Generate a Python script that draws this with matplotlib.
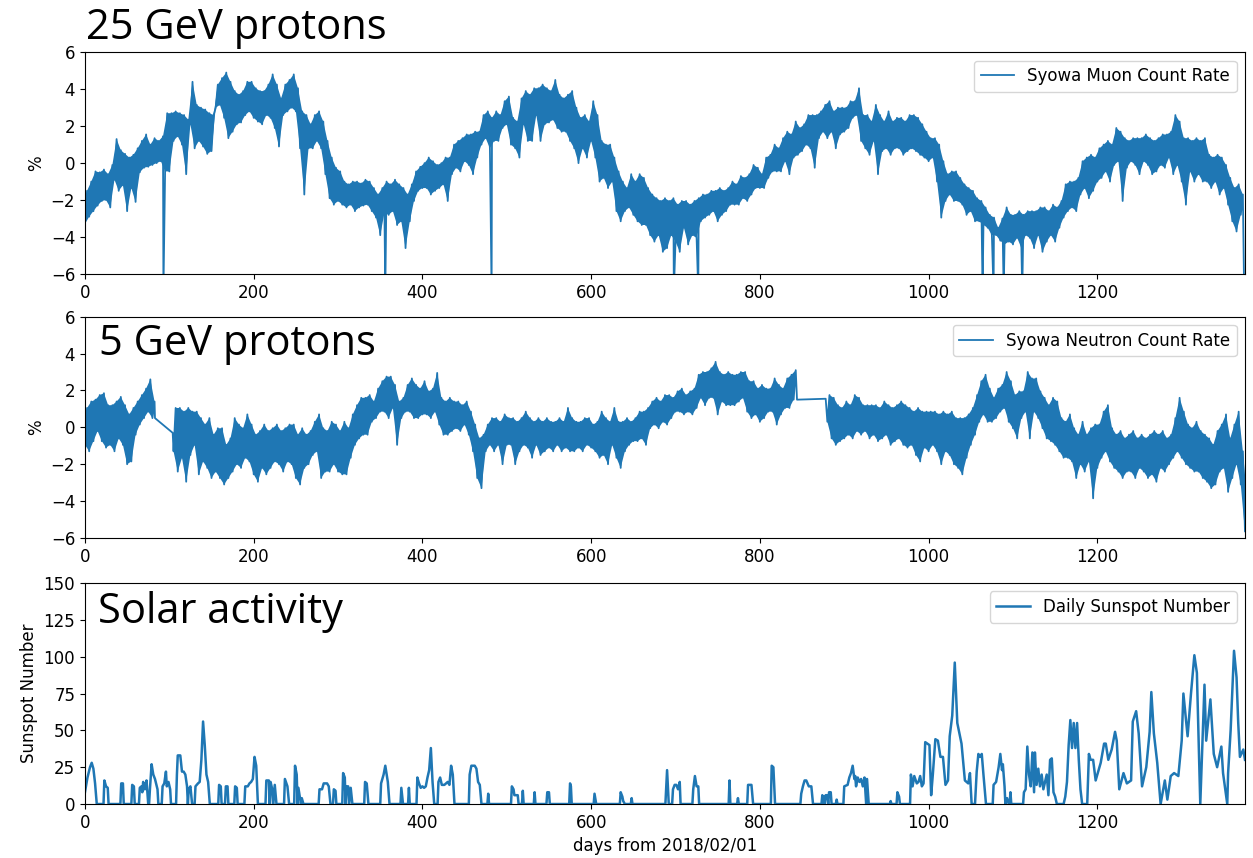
import numpy as np
import matplotlib.pyplot as plt

# Syowa muon count rate (%), read every 5 days: upper and lower edge of the hourly band
muon_days = list(range(0, 1371, 5))
muon_hi = [
    -1.5, -1.0, -0.45, -0.5, -0.35, -0.6, -0.1, 1.3, 0.7, 0.5,
    0.3, 0.45, 0.8, 1.2, 1.55, 1.0, 1.35, 1.2, 1.45, 2.7,
    2.7, 2.8, 2.7, 2.6, 2.35, 4.4, 3.15, 3.0, 2.9, 2.7,
    2.6, 4.25, 4.6, 4.9, 4.4, 3.9, 3.7, 3.9, 4.4, 4.4,
    4.05, 3.9, 3.9, 4.25, 4.8, 4.25, 3.5, 4.25, 4.5, 4.8,
    4.05, 2.8, 2.6, 2.1, 2.6, 2.8, 2.25, 1.2, 0.3, -0.25,
    -0.45, -1.0, -1.15, -1.0, -1.0, -1.1, -0.9, -1.0, -1.35, -1.7,
    -1.35, -1.0, -1.15, -0.9, -1.15, -1.35, -1.7, -1.15, -0.45, -0.2,
    0.0, 0.3, 0.1, -0.1, 0.0, 0.3, 0.3, 1.0, 1.2, 1.35,
    1.55, 1.55, 1.7, 1.7, 2.6, 2.8, 2.45, 2.8, 2.6, 3.35,
    3.6, 2.45, 2.25, 3.5, 3.9, 3.7, 4.05, 4.05, 4.25, 4.05,
    3.9, 4.5, 3.7, 3.5, 3.7, 3.9, 3.0, 2.45, 2.6, 2.25,
    3.35, 2.6, 1.2, 1.0, 1.0, 0.3, -0.45, -1.0, -1.35, -0.6,
    -1.0, -0.6, -0.8, -1.35, -1.7, -1.9, -2.05, -1.9, -2.05, -1.9,
    -2.25, -2.05, -2.05, -2.25, -2.05, -1.9, -1.7, -1.7, -1.5, -1.5,
    -1.35, -1.5, -1.35, -1.0, -1.15, -0.7, -0.8, -0.6, -0.1, -0.25,
    -0.6, 0.3, 0.45, 1.0, 0.8, 1.35, 1.7, 1.55, 2.25, 1.9,
    2.1, 2.6, 2.6, 2.6, 2.8, 3.15, 3.35, 2.8, 3.0, 3.0,
    3.0, 3.35, 3.35, 4.05, 2.6, 2.6, 2.25, 3.15, 2.6, 2.25,
    2.8, 2.25, 2.45, 2.45, 2.25, 2.6, 2.6, 2.45, 2.1, 1.7,
    1.35, 1.35, 1.0, 0.1, -0.6, -0.45, -0.45, -0.8, -1.15, -1.35,
    -1.5, -1.9, -2.05, -2.4, -2.8, -2.95, -3.5, -3.0, -2.4, -2.8,
    -2.8, -2.6, -2.8, -2.6, -2.6, -2.6, -2.4, -2.4, -2.6, -2.25,
    -2.4, -2.05, -1.15, -1.0, -1.0, -0.8, 0.1, 0.3, 0.45, 0.3,
    0.8, 1.0, 1.2, 1.0, 1.9, 1.7, 1.35, 1.2, 1.35, 1.35,
    1.35, 1.55, 1.35, 1.2, 1.35, 1.55, 1.55, 1.7, 2.6, 2.25,
    1.35, 1.35, 1.2, 1.35, 1.2, 1.35, 0.45, 0.3, 0.45, 0.3,
    -0.1, -0.8, -1.35, -1.15, -1.7,
]
muon_lo = [
    -3.3, -2.9, -2.6, -2.3, -2.05, -2.0, -2.4, -0.9, -1.5, -1.2,
    -2.6, -1.35, -2.1, -0.5, -0.25, -0.2, -0.1, 0.0, 0.1, -0.45,
    -0.45, 1.2, 1.45, 1.0, -0.6, 2.1, 0.8, 1.2, 0.9, 0.5,
    0.65, 3.0, 3.15, 2.45, 1.35, 1.7, 2.1, 2.2, 2.6, 2.8,
    2.45, 2.25, 2.1, 2.6, 2.45, 1.9, 0.9, 2.6, 2.8, 3.0,
    2.8, 0.8, -1.7, 0.8, 0.8, 1.2, 0.8, -0.6, -1.9, -2.25,
    -2.05, -2.25, -2.4, -2.25, -2.6, -2.4, -2.3, -2.25, -2.6, -2.95,
    -3.9, -2.7, -2.8, -2.6, -3.35, -3.15, -4.6, -3.15, -2.05, -1.5,
    -1.35, -1.35, -1.7, -1.5, -1.35, -1.15, -2.05, -0.6, -0.25, -0.45,
    0.1, -0.1, -0.6, 0.3, 1.0, 1.35, 0.8, 1.2, 1.2, 1.9,
    2.1, 1.0, 0.8, 0.3, 2.1, 1.2, 1.2, 2.6, 1.2, 2.1,
    2.2, 2.35, 1.9, 1.7, 1.7, 1.2, 0.8, 0.0, 0.8, 0.3,
    1.2, 0.3, -1.0, -0.8, -1.35, -1.0, -2.6, -3.15, -2.6, -2.4,
    -2.8, -3.15, -3.35, -3.35, -3.9, -4.25, -3.9, -4.8, -4.6, -3.9,
    -4.25, -4.8, -3.5, -4.4, -3.9, -4.05, -3.15, -2.95, -2.8, -2.6,
    -3.15, -2.8, -2.6, -2.25, -2.25, -2.25, -1.9, -2.05, -1.7, -1.35,
    -1.35, -1.35, -0.8, -0.45, -0.45, -0.45, 0.1, -0.6, 0.3, 0.45,
    0.65, 1.0, 0.8, -0.25, 1.35, 1.7, 1.35, 1.7, 0.8, 1.55,
    1.7, 1.9, 2.45, 2.6, 1.2, 0.8, 0.45, 1.2, -0.6, 0.65,
    0.8, 0.45, 0.8, 0.8, 0.45, 0.65, 0.8, 0.65, 0.45, 0.3,
    0.1, 0.3, -1.0, -2.95, -2.05, -1.7, -2.05, -2.05, -2.25, -2.8,
    -2.6, -3.15, -3.15, -3.35, -3.5, -3.9, -3.9, -4.2, -4.4, -4.25,
    -4.4, -4.05, -4.6, -3.9, -4.05, -4.6, -3.9, -4.8, -4.25, -3.9,
    -4.25, -3.5, -2.95, -2.6, -2.4, -2.6, -1.7, -1.35, -1.9, -1.5,
    -1.0, -0.8, -0.45, -1.0, -0.1, 0.1, -2.05, -0.25, 0.1, -0.1,
    -0.6, 0.1, -0.1, -0.6, -0.45, -0.1, -0.25, 0.3, -0.6, -0.1,
    -1.0, -2.25, -0.45, -1.0, -0.6, -1.0, -1.0, -1.35, -1.0, -1.7,
    -1.35, -2.25, -3.15, -3.7, -2.8,
]
# single hours where the muon record drops off the bottom of the axis
muon_drop_days = [93, 356, 482, 698, 727, 1064, 1077, 1089, 1111, 1374]
muon_drop_vals = [-7, -7, -7, -7, -7, -7, -7, -7, -7, -7]

# Syowa neutron count rate (%), same 5-day reading, two gaps with no data
neutron_segments = [(0, 80), (105, 840), (880, 1375)]
neutron_hi = [
    # 0 - 80
    1.05, 1.4, 1.5, 1.75, 1.85, 1.2, 1.2, 1.4, 1.65, 1.2,
    0.7, 1.05, 1.4, 1.75, 2.1, 2.6, 1.4,
    # 105 - 840
    1.05, 1.05, 0.85, 1.05, 0.85, 0.85, 0.5, 0.15, 0.5, -0.4,
    -0.05, -0.05, -0.95, -0.6, 0.5, 0.15, -0.05, 0.7, 0.15, -0.4,
    -0.2, 0.15, -0.2, -0.05, 0.15, -0.2, -0.05, 0.15, 0.15, -0.4,
    -0.05, -0.4, -0.2, 0.3, 0.7, -0.05, -0.2, 0.3, 0.15, -0.2,
    0.3, -0.05, 0.7, 1.2, 1.6, 1.6, 1.75, 1.4, 2.1, 2.5,
    2.75, 2.75, 2.3, 1.4, 1.6, 2.3, 2.65, 2.3, 2.1, 2.5,
    1.95, 2.1, 2.95, 1.6, 1.4, 1.6, 1.4, 1.4, 1.2, 1.4,
    0.85, 0.15, -0.6, -0.4, 0.15, 0.5, 0.5, 0.3, 0.7, 0.5,
    0.5, 0.3, 0.5, 0.85, 0.5, 0.3, 0.5, 0.3, 0.5, 0.3,
    0.3, 0.5, 0.3, 1.05, 0.5, 0.3, 0.3, 0.5, 0.5, 0.15,
    0.3, 0.85, 0.5, 0.3, 1.05, 0.3, 0.3, 0.5, 0.3, 0.5,
    0.85, 0.85, 1.05, 1.4, 1.6, 1.4, 1.75, 1.75, 1.6, 1.95,
    2.1, 1.75, 1.95, 2.1, 2.85, 3.0, 3.0, 3.2, 3.55, 3.0,
    2.85, 3.0, 2.85, 2.85, 3.0, 3.0, 2.5, 2.5, 2.1, 2.3,
    2.1, 2.1, 2.65, 2.3, 2.1, 2.65, 2.85, 3.1,
    # 880 - 1375
    1.75, 1.6, 1.2, 1.05, 1.4, 1.2, 1.75, 1.6, 1.2, 1.2,
    1.2, 1.2, 1.05, 1.4, 1.2, 1.05, 1.2, 1.4, 1.2, 1.05,
    0.85, 1.05, 0.85, 0.85, 0.85, 0.85, 0.7, 0.85, 0.7, 0.85,
    0.5, 0.5, 0.5, 0.7, 1.05, 1.75, 2.5, 2.85, 2.1, 1.6,
    2.1, 2.3, 3.0, 2.5, 1.75, 1.95, 1.95, 3.0, 2.65, 2.65,
    1.95, 1.6, 1.2, 1.6, 1.4, 0.5, 0.3, 0.7, -0.05, -0.4,
    0.3, -0.4, -0.05, 0.15, 0.15, 0.85, 1.2, -0.05, -0.4, -0.2,
    -0.6, -0.4, -0.2, -0.6, -0.4, -0.6, -0.4, -0.2, -0.4, -0.2,
    -0.6, -0.4, 0.5, 1.6, 0.85, 0.15, -0.05, 0.3, -0.2, -0.4,
    -0.6, -0.95, -0.2, 0.15, 0.7, -0.6, 0.15, 0.85, -1.3, -3.85,
]
neutron_lo = [
    # 0 - 80
    -0.95, -1.3, -0.75, -0.2, -0.75, -1.1, -0.95, -1.3, -0.6, -0.95,
    -2.0, -1.85, -0.4, 0.15, 0.5, 0.85, 0.5,
    # 105 - 840
    -1.3, -2.4, -1.65, -2.95, -1.5, -0.95, -2.55, -1.85, -2.2, -2.75,
    -2.4, -2.75, -3.1, -2.75, -2.4, -2.0, -2.2, -1.65, -1.85, -2.55,
    -2.95, -2.2, -2.55, -2.2, -1.85, -2.0, -2.4, -1.85, -2.0, -2.75,
    -3.1, -2.2, -2.0, -1.5, -1.3, -2.75, -2.4, -2.4, -2.0, -2.4,
    -2.55, -2.55, -1.65, -0.95, -0.6, -0.4, -0.4, 0.3, 0.5, 0.85,
    0.85, 0.5, 1.05, -0.95, 0.5, 0.85, 0.85, 0.5, 0.5, 0.7,
    0.7, 0.5, 0.85, 0.15, -0.4, -0.4, -0.2, -0.05, -0.2, 0.15,
    -0.4, -1.3, -2.75, -3.3, -1.3, -0.95, -1.3, -0.95, -2.0, -0.95,
    -0.95, -2.0, -1.3, -0.95, -1.1, -1.65, -0.95, -1.5, -1.3, -1.1,
    -1.3, -0.95, -1.3, -1.1, -1.3, -1.3, -1.1, -1.3, -0.95, -1.1,
    -1.3, -1.65, -1.5, -2.0, -0.95, -1.65, -2.2, -1.3, -0.95, -0.75,
    -0.75, -0.6, -0.95, -0.05, 0.15, -0.05, 0.3, 0.15, 0.5, 0.85,
    0.85, 0.7, 0.85, 0.7, 1.05, 1.6, 1.2, 1.6, 1.6, 0.7,
    1.4, 1.2, 1.2, 1.2, 1.4, 1.6, 0.85, 0.5, 0.7, 0.3,
    0.5, 0.85, 0.85, 0.15, 0.7, 1.05, 1.05, 1.5,
    # 880 - 1375
    0.3, -0.6, -0.95, -0.75, -0.6, -0.4, -0.6, -0.2, -0.4, -0.2,
    -0.6, -0.4, -0.75, -0.6, -0.4, -0.95, -0.75, -0.6, -0.95, -1.1,
    -0.95, -1.5, -1.85, -1.1, -1.3, -0.95, -1.3, -2.0, -1.3, -1.5,
    -2.0, -2.2, -2.55, -1.65, -0.95, -0.4, 0.3, 0.7, 0.3, 0.3,
    0.5, 0.85, 1.05, 0.3, -0.05, -0.6, 0.5, 0.85, -0.6, 0.85,
    0.5, -0.05, -0.6, -0.75, -0.95, -1.3, -1.65, -1.65, -1.85, -2.75,
    -2.0, -2.4, -1.85, -3.85, -2.2, -1.65, -1.3, -1.85, -2.2, -2.4,
    -2.75, -2.4, -2.4, -2.75, -2.2, -2.4, -2.75, -2.55, -2.95, -2.2,
    -2.4, -2.0, -1.65, -1.3, -1.65, -2.0, -2.2, -2.4, -2.4, -2.75,
    -2.95, -3.3, -3.1, -2.4, -2.2, -3.5, -2.75, -2.0, -3.1, -5.65,
]
# last and first hourly values either side of the two gaps (joined by a straight line)
neutron_gap_days = [83, 104, 844, 878]
neutron_gap_vals = [0.5, -0.3, 1.5, 1.55]

# daily sunspot number, turning points of the curve
ssn_day = [
    0, 3, 6, 8, 10, 12, 14, 22, 23, 25, 27, 28, 42, 43, 45, 46, 55, 56, 58, 59,
    64, 65, 67, 68, 69, 71, 73, 75, 76, 77, 79, 81, 83, 86, 87,
    91, 92, 94, 96, 97, 99, 101, 102,
    108, 109, 110, 113, 115, 117, 119, 121, 122, 123, 125, 127,
    130, 131, 134, 136, 138, 140, 142, 144, 146, 148,
    158, 159, 161, 162, 166, 167, 169, 170, 177, 178, 180, 181,
    189, 190, 193, 195, 197, 199, 201, 203, 205,
    214, 215, 218, 219, 220, 222, 223, 225, 227, 236, 237, 240, 242,
    248, 249, 251, 252, 253, 256, 257, 259,
    277, 278, 281, 283, 285, 287, 289, 291, 294, 295, 297, 298,
    305, 306, 308, 309, 310, 312, 313, 315, 317, 331, 332, 334, 336,
    350, 351, 354, 356, 359, 361, 374, 375, 377, 383, 384, 385,
    393, 394, 396, 398, 400, 402, 404, 406, 408, 410, 412, 414,
    418, 419, 421, 423, 426, 428, 430, 432, 434, 436, 438,
    455, 456, 458, 462, 464, 466, 468, 470, 477, 478, 479,
    505, 506, 508, 509, 511, 513, 514, 518, 519, 520, 532, 533, 534,
    547, 548, 550, 551, 574, 575, 576, 577, 603, 604, 606,
    634, 635, 637, 638, 640, 647, 648, 649, 688, 690, 692,
    696, 697, 699, 701, 703, 705, 706, 720, 721, 723, 725, 727, 728,
    763, 764, 765, 773, 774, 775, 785, 786, 790, 792, 813, 814, 816, 818,
    848, 849, 851, 853, 855, 858, 861, 863,
    873, 874, 875, 876, 877, 878, 880, 881, 882, 884, 885, 890, 891, 892,
    899, 900, 904, 906, 908, 910, 912, 913, 914, 916, 918, 920, 922, 924, 926, 927, 929,
    954, 955, 956, 962, 963, 965, 966,
    978, 979, 981, 983, 986, 988, 990, 992, 994, 996, 1001, 1003, 1005, 1008, 1011,
    1014, 1017, 1020, 1023, 1025, 1028, 1031, 1034, 1039, 1043, 1047, 1049, 1051,
    1055, 1057, 1059, 1061, 1063, 1065, 1068,
    1076, 1077, 1080, 1083, 1085, 1087, 1088, 1090, 1091, 1093, 1095, 1096, 1097, 1098,
    1112, 1113, 1115, 1117, 1119, 1121, 1123, 1125, 1126, 1128, 1130, 1132, 1134,
    1136, 1138, 1140, 1142, 1144, 1146, 1148, 1150, 1152,
    1160, 1162, 1164, 1166, 1168, 1170, 1172, 1174, 1176, 1178, 1180, 1182,
    1188, 1190, 1192, 1195, 1198, 1200, 1204, 1208, 1210, 1213, 1217, 1221, 1223,
    1226, 1231, 1235, 1240, 1242, 1246, 1249, 1253, 1258, 1262, 1264, 1267, 1271,
    1275, 1280, 1283, 1287, 1291, 1296, 1300, 1302, 1307, 1311, 1315, 1318, 1322,
    1327, 1329, 1334, 1338, 1342, 1347, 1349, 1354, 1355, 1358, 1362, 1365, 1367,
    1369, 1373, 1375,
]
ssn_val = [
    8, 18, 25, 28, 24, 14, 0, 0, 16, 12, 11, 0, 0, 14, 14, 0, 0, 13, 12, 0,
    0, 11, 12, 8, 15, 10, 16, 0, 0, 10, 27, 20, 17, 10, 0,
    0, 12, 14, 22, 12, 15, 10, 0,
    0, 20, 33, 33, 22, 22, 20, 12, 0, 10, 12, 0,
    0, 12, 14, 15, 30, 56, 40, 20, 15, 0,
    0, 13, 12, 0, 0, 12, 12, 0, 0, 12, 11, 0,
    0, 12, 12, 14, 15, 17, 32, 26, 0,
    0, 16, 16, 0, 15, 10, 0, 13, 0, 0, 17, 12, 0,
    0, 26, 20, 0, 11, 0, 4, 0,
    0, 10, 10, 14, 14, 14, 12, 0, 0, 10, 9, 0,
    0, 21, 18, 0, 12, 12, 0, 11, 0, 0, 15, 14, 0,
    0, 14, 20, 26, 15, 0, 0, 11, 0, 0, 11, 0,
    0, 18, 14, 11, 12, 11, 12, 18, 23, 38, 15, 0,
    0, 15, 18, 13, 13, 14, 15, 13, 26, 20, 0,
    0, 20, 26, 26, 24, 15, 13, 0, 0, 7, 0,
    0, 12, 10, 6, 6, 6, 0, 0, 9, 0, 0, 8, 0,
    0, 8, 8, 0, 0, 14, 12, 0, 0, 7, 0,
    0, 8, 5, 2, 0, 0, 4, 0, 0, 23, 0,
    0, 10, 13, 13, 10, 15, 0, 0, 10, 19, 12, 12, 0,
    0, 16, 0, 0, 4, 0, 0, 13, 13, 0, 0, 26, 25, 0,
    0, 7, 12, 16, 16, 12, 12, 0,
    0, 6, 0, 5, 0, 6, 6, 0, 8, 8, 0, 0, 3, 0,
    0, 12, 13, 18, 21, 26, 17, 19, 12, 18, 15, 17, 12, 18, 0, 17, 0,
    0, 2, 0, 0, 8, 5, 0,
    0, 20, 12, 19, 14, 15, 19, 12, 14, 42, 40, 6, 20, 44, 43,
    32, 32, 13, 16, 46, 60, 96, 55, 41, 16, 14, 21, 0,
    0, 22, 34, 32, 34, 20, 0,
    0, 13, 15, 25, 34, 23, 27, 12, 0, 4, 0, 0, 8, 0,
    0, 8, 10, 39, 20, 12, 35, 8, 35, 13, 24, 12, 20,
    10, 15, 20, 6, 30, 31, 8, 5, 0,
    0, 5, 15, 40, 57, 38, 55, 38, 55, 30, 10, 0,
    0, 34, 30, 30, 16, 20, 28, 41, 41, 30, 37, 49, 43,
    10, 21, 14, 16, 56, 63, 48, 12, 25, 49, 76, 48, 28,
    0, 16, 3, 19, 21, 19, 43, 75, 46, 75, 101, 89, 0,
    81, 43, 71, 34, 25, 39, 21, 0, 21, 50, 104, 86, 55,
    32, 37, 30,
]

BLUE = '#1f77b4'


def draw_band(ax, days, hi, lo):
    # hourly scatter: a polygon between the read edges plus a line stepping lo -> hi
    d = np.asarray(days, dtype=float)
    hi = np.asarray(hi, dtype=float)
    lo = np.asarray(lo, dtype=float)
    ax.fill(np.r_[d + 2.5, d[::-1]], np.r_[hi, lo[::-1]], color=BLUE, lw=0)
    x = np.column_stack([d, d + 2.5]).ravel()
    y = np.column_stack([lo, hi]).ravel()
    return x, y


def joined(xs, ys):
    x = np.concatenate(xs)
    y = np.concatenate(ys)
    order = np.argsort(x, kind='stable')
    return x[order], y[order]


fig = plt.figure(figsize=(12.53, 8.58), dpi=100)
ax1 = fig.add_axes([0.0678, 0.6807, 0.9258, 0.2584])
ax2 = fig.add_axes([0.0678, 0.3730, 0.9258, 0.2579])
ax3 = fig.add_axes([0.0678, 0.0629, 0.9258, 0.2576])

# muon panel
mx, my = draw_band(ax1, muon_days, muon_hi, muon_lo)
mx, my = joined([mx, muon_drop_days], [my, muon_drop_vals])
ax1.plot(mx, my, color=BLUE, lw=1.3, label='Syowa Muon Count Rate')
ax1.set_ylim(-6, 6)
ax1.set_ylabel('%', fontsize=12)

# neutron panel, filled per data segment so the gaps stay a thin line
xs, ys = [neutron_gap_days], [neutron_gap_vals]
i0 = 0
for start, stop in neutron_segments:
    days = list(range(start, stop + 1, 5))
    n = len(days)
    nx, ny = draw_band(ax2, days, neutron_hi[i0:i0 + n], neutron_lo[i0:i0 + n])
    xs.append(nx)
    ys.append(ny)
    i0 += n
nx, ny = joined(xs, ys)
ax2.plot(nx, ny, color=BLUE, lw=1.3, label='Syowa Neutron Count Rate')
ax2.set_ylim(-6, 6)
ax2.set_ylabel('%', fontsize=12)

# sunspot panel
ax3.plot(ssn_day, ssn_val, color=BLUE, lw=1.8, label='Daily Sunspot Number')
ax3.set_ylim(0, 150)
ax3.set_yticks(range(0, 151, 25))
ax3.set_ylabel('Sunspot Number', fontsize=12)
ax3.set_xlabel('days from 2018/02/01', fontsize=12)

for ax in (ax1, ax2, ax3):
    ax.set_xlim(0, 1375)
    ax.set_xticks(range(0, 1201, 200))
    ax.tick_params(labelsize=12)
    ax.legend(loc='upper right', fontsize=12)
ax1.set_yticks(range(-6, 7, 2))
ax2.set_yticks(range(-6, 7, 2))

# slide-style captions on top of the panels
cap = dict(fontsize=30, family=['Open Sans', 'DejaVu Sans'], va='baseline', ha='left')
fig.text(86 / 1253, 1 - 39 / 858, '25 GeV protons', **cap)
fig.text(99 / 1253, 1 - 355 / 858, '5 GeV protons', **cap)
fig.text(98 / 1253, 1 - 623 / 858, 'Solar activity', **cap)

fig.savefig('out.png', dpi=100)
